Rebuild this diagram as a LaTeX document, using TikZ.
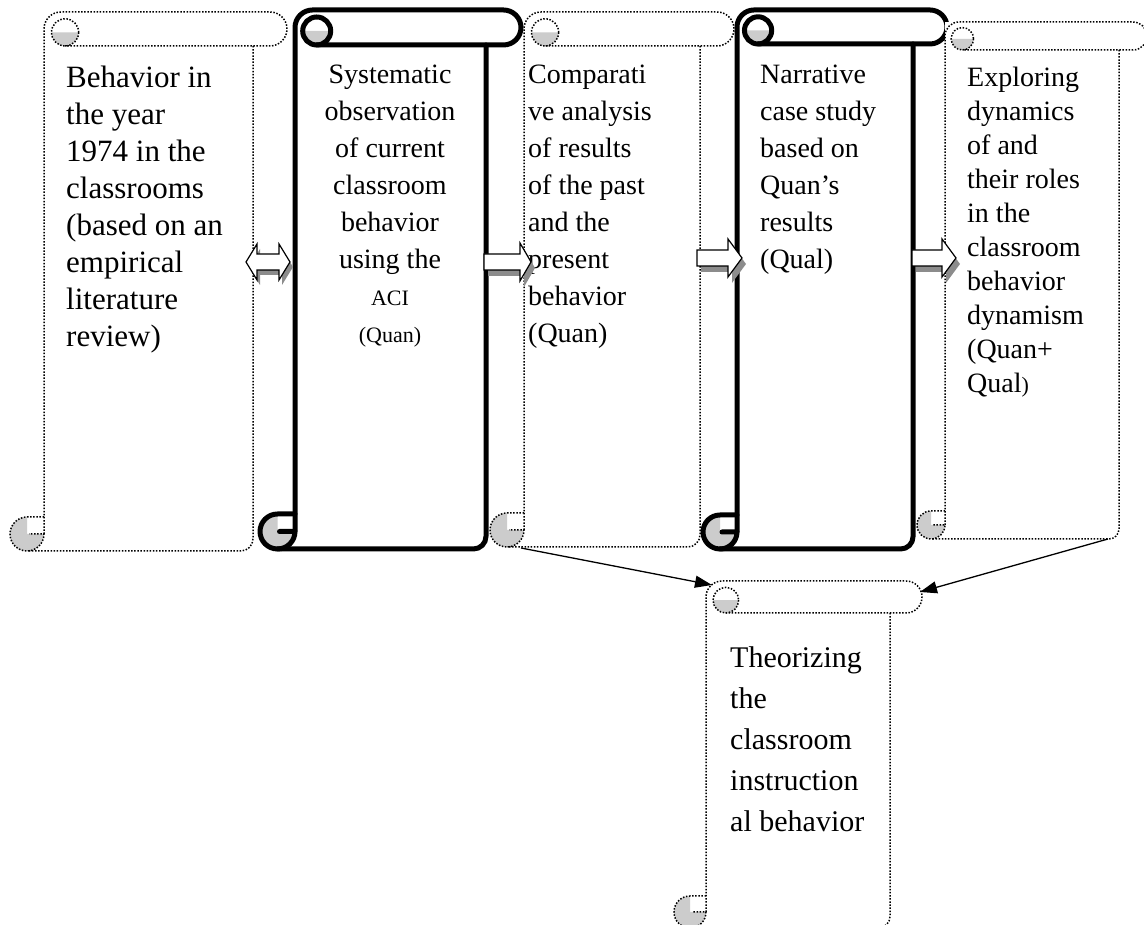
\documentclass[tikz,border=0pt]{standalone}
\usepackage{fontspec}
\setmainfont{Liberation Serif}
\usetikzlibrary{arrows.meta}

\definecolor{curlgray}{gray}{0.8}
\definecolor{shadowgray}{gray}{0.55}

\tikzset{
  dotline/.style={line width=1.5pt, dash pattern=on 1.5pt off 1.6pt, line cap=butt},
  boldline/.style={line width=5pt, line join=round, line cap=round},
  blockline/.style={line width=1.2pt, fill=white, line join=miter},
  boxtext/.style={inner sep=0pt, anchor=north west, align=left},
  conn/.style={line width=1.3pt, -{Triangle[length=17pt,width=12pt]}}
}

% Vertical scroll: #1 left, #2 right, #3 top, #4 bottom, #5 roll size, #6 line style
\newcommand{\vscroll}[6]{%
  \pgfmathsetmacro{\scrL}{#1}%
  \pgfmathsetmacro{\scrR}{#2}%
  \pgfmathsetmacro{\scrT}{#3}%
  \pgfmathsetmacro{\scrB}{#4}%
  \pgfmathsetmacro{\scrC}{#5}%
  \pgfmathsetmacro{\scrH}{#5/2}%
  \pgfmathsetmacro{\scrBL}{#1+#5}%
  \pgfmathsetmacro{\scrBR}{#2-#5}%
  \pgfmathsetmacro{\scrKx}{\scrBL+0.62*#5}%
  \pgfmathsetmacro{\scrKy}{#3+0.6*#5}%
  \pgfmathsetmacro{\scrKr}{0.4*#5}%
  \pgfmathsetmacro{\scrQ}{0.36*#5}%
  % paper
  \fill[white] (\scrBL,\scrT) rectangle (\scrBR,\scrB);
  \fill[white] (\scrBL,\scrT) rectangle (\scrR-\scrH,\scrT+\scrC);
  \fill[white] (\scrR-\scrH,\scrT+\scrH) circle[radius=\scrH];
  \fill[white] (\scrL+\scrH,\scrB-\scrH) circle[radius=\scrH];
  % shaded curls
  \fill[curlgray] (\scrKx-\scrKr,\scrKy) arc[start angle=-180,end angle=-360,radius=\scrKr] -- cycle;
  \fill[curlgray] (\scrL+\scrH,\scrB-\scrH) -- (\scrBL,\scrB-\scrH)
      arc[start angle=0,end angle=270,radius=\scrH] -- cycle;
  % top roll and left edge
  \draw[#6] (\scrBL,\scrB-\scrH) -- (\scrBL,\scrT+\scrH)
      arc[start angle=-180,end angle=-90,radius=\scrH]
      -- (\scrR-\scrH,\scrT)
      arc[start angle=-90,end angle=90,radius=\scrH]
      -- (\scrKx,\scrT+\scrC);
  \draw[#6] (\scrKx,\scrKy) circle[radius=\scrKr];
  % right edge and bottom
  \draw[#6] (\scrBR,\scrT+\scrC) -- (\scrBR,\scrB-\scrQ)
      arc[start angle=0,end angle=90,radius=\scrQ]
      -- (\scrL+\scrH,\scrB);
  % bottom curl
  \draw[#6] (\scrBL,\scrB-\scrC) -- (\scrL+\scrH,\scrB-\scrC)
      arc[start angle=-90,end angle=-360,radius=\scrH]
      -- (\scrL+\scrH+2,\scrB-\scrH);
}

% Block arrow pointing right: #1 tail x, #2 head back x, #3 tip x, #4 centre y
\newcommand{\rightblock}[4]{%
  \fill[shadowgray, shift={(4,6)}] (#1,#4-8) -- (#2,#4-8) -- (#2,#4-19) -- (#3,#4)
      -- (#2,#4+19) -- (#2,#4+8) -- (#1,#4+8) -- cycle;
  \draw[blockline] (#1,#4-8) -- (#2,#4-8) -- (#2,#4-19) -- (#3,#4)
      -- (#2,#4+19) -- (#2,#4+8) -- (#1,#4+8) -- cycle;
}

% Double-headed block arrow: #1 left tip x, #2 right tip x, #3 centre y
\newcommand{\bothblock}[3]{%
  \fill[shadowgray, shift={(3,5)}] (#1,#3) -- (#1+11,#3-18) -- (#1+11,#3-8) -- (#2-11,#3-8)
      -- (#2-11,#3-18) -- (#2,#3) -- (#2-11,#3+18) -- (#2-11,#3+8) -- (#1+11,#3+8)
      -- (#1+11,#3+18) -- cycle;
  \draw[blockline] (#1,#3) -- (#1+11,#3-18) -- (#1+11,#3-8) -- (#2-11,#3-8)
      -- (#2-11,#3-18) -- (#2,#3) -- (#2-11,#3+18) -- (#2-11,#3+8) -- (#1+11,#3+8)
      -- (#1+11,#3+18) -- cycle;
}

\begin{document}
\begin{tikzpicture}[x=1pt,y=1pt]
\useasboundingbox (0,0) rectangle (1144,925);
\clip (0,0) rectangle (1144,925);
\begin{scope}[yshift=925pt, yscale=-1]

  % scrolls
  \vscroll{10}{287}{12}{551}{34}{dotline}
  \vscroll{260}{521}{10}{549}{35}{boldline}
  \vscroll{490}{734}{12}{547}{34}{dotline}
  \vscroll{703}{947}{10}{549}{34}{boldline}
  \vscroll{917}{1147}{22}{539}{28}{dotline}
  \vscroll{674}{922}{581}{928}{32}{dotline}

  % texts
  \node[boxtext, font=\fontsize{31}{37}\selectfont] (past) at (66,66)
    {Behavior in\\the year\\1974 in the\\classrooms\\(based on an\\empirical\\literature\\review)};
  \node[inner sep=0pt, anchor=north, align=center, font=\fontsize{28}{37}\selectfont] (obs) at (390,65)
    {Systematic\\observation\\of current\\classroom\\behavior\\using the\\{\fontsize{22}{37}\selectfont ACI}\\{\fontsize{22}{37}\selectfont (Quan)}};
  \node[boxtext, font=\fontsize{28}{37}\selectfont] (comp) at (528,65)
    {Comparati\\ve analysis\\of results\\of the past\\and the\\present\\behavior\\(Quan)};
  \node[boxtext, font=\fontsize{28}{37}\selectfont] (case) at (760,65)
    {Narrative\\case study\\based on\\Quan’s\\results\\(Qual)};
  \node[boxtext, font=\fontsize{28}{34}\selectfont] (expl) at (967,67)
    {Exploring\\dynamics\\of and\\their roles\\in the\\classroom\\behavior\\dynamism\\(Quan+\\Qual{\fontsize{22}{34}\selectfont )}};
  \node[boxtext, font=\fontsize{30}{41}\selectfont] (theo) at (730,646)
    {Theorizing\\the\\classroom\\instruction\\al behavior};

  % block arrows between the scrolls
  \bothblock{246}{290}{262}
  \rightblock{484}{520}{531}{262}
  \rightblock{697}{728}{742}{258}
  \rightblock{912}{942}{956}{258}

  % connectors to the theorizing scroll
  \coordinate (compfoot) at (521,548);
  \coordinate (explfoot) at (1108,539);
  \coordinate (theoleft) at (712,585);
  \coordinate (theoright) at (920,592);
  \draw[conn] (compfoot) -- (theoleft);
  \draw[conn] (explfoot) -- (theoright);

\end{scope}
\end{tikzpicture}
\end{document}
